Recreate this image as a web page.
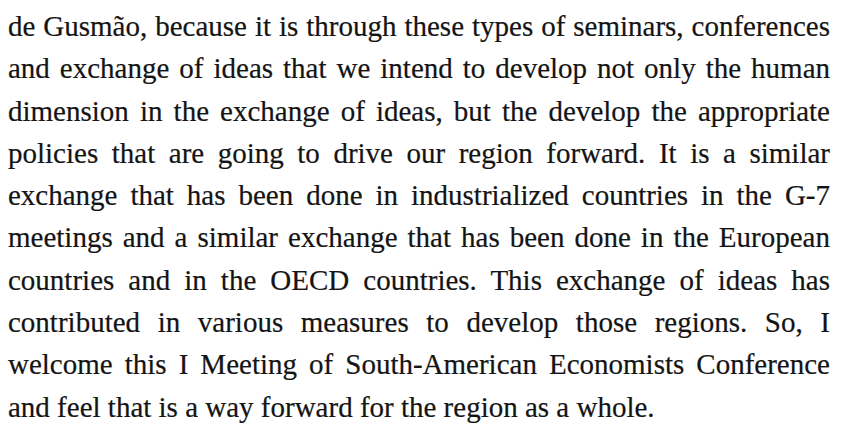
<!DOCTYPE html>
<html>
<head>
<meta charset="utf-8">
<script src="https://cdn.jsdelivr.net/npm/chart.js@4.4.0/dist/chart.umd.min.js"></script>
<style>
  html, body { margin: 0; padding: 0; background: #fff; }
  body { width: 844px; height: 427px; overflow: hidden; }
  #page {
    position: absolute; left: 8px; top: 5px; width: 822px;
    font-family: "Liberation Serif", "DejaVu Serif", serif;
    font-size: 29px; line-height: 42.3px; color: #141414;
    -webkit-text-stroke: 0.2px #141414;
  }
  .ln { white-space: nowrap; text-align: justify; text-align-last: justify; }
  .ln.last { text-align-last: left; }
</style>
</head>
<body>
<div id="page"></div>
<script>
// text lines as they break in the reference
const lines = [
  'de Gusmão, because it is through these types of seminars, conferences',
  'and exchange of ideas that we intend to develop not only the human',
  'dimension in the exchange of ideas, but the develop the appropriate',
  'policies that are going to drive our region forward. It is a similar',
  'exchange that has been done in industrialized countries in the G-7',
  'meetings and a similar exchange that has been done in the European',
  'countries and in the OECD countries. This exchange of ideas has',
  'contributed in various measures to develop those regions. So, I',
  'welcome this I Meeting of South-American Economists Conference',
  'and feel that is a way forward for the region as a whole.'
];

const page = document.getElementById('page');

// pick the largest size (up to 29px) where the longest line still fits
const ctx = document.createElement('canvas').getContext('2d');
ctx.font = '100px "Liberation Serif"';
const widest = Math.max(...lines.map(t => ctx.measureText(t).width));
const size = Math.min(29, 822 * 0.995 / widest * 100);
page.style.fontSize = size.toFixed(2) + 'px';

lines.forEach((t, i) => {
  const d = document.createElement('div');
  d.className = 'ln' + (i === lines.length - 1 ? ' last' : '');
  d.textContent = t;
  page.appendChild(d);
});
</script>
</body>
</html>
